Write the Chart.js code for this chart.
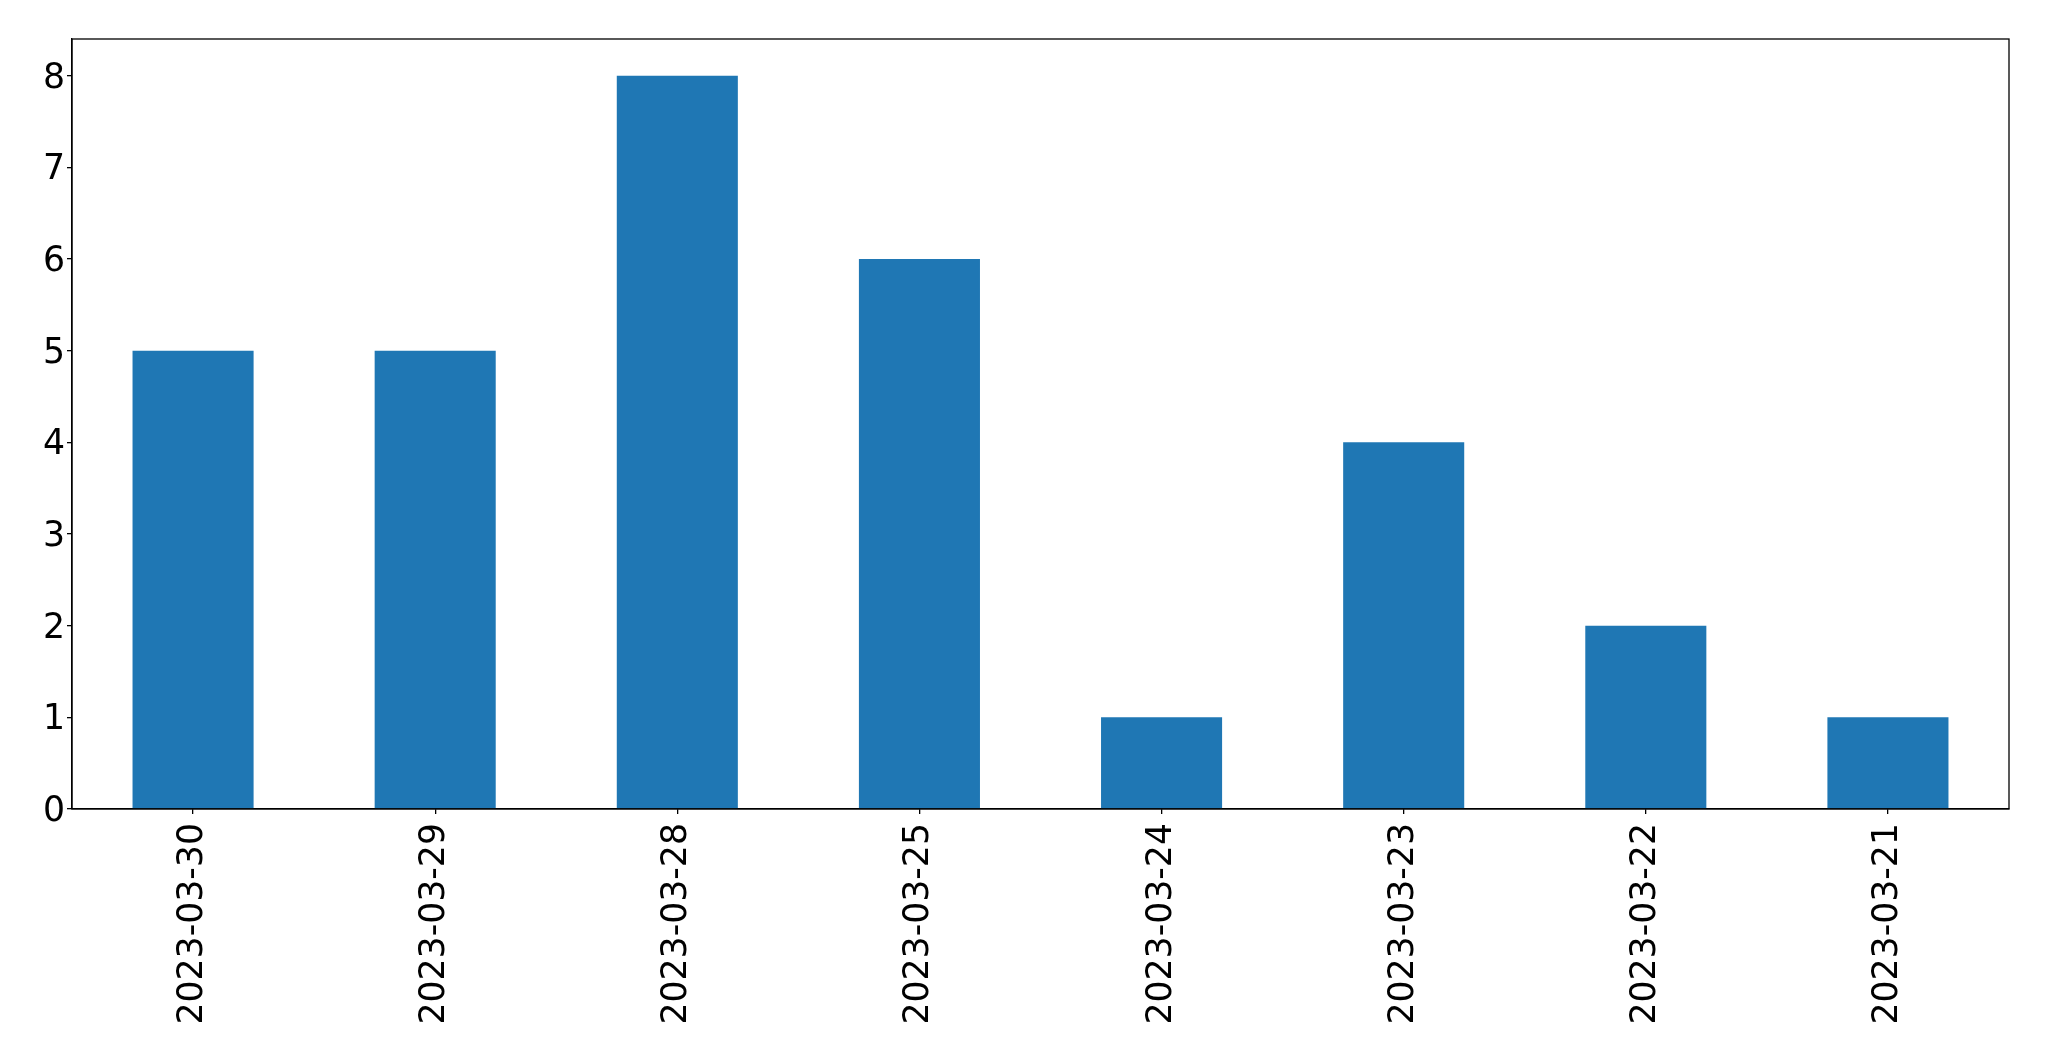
<!DOCTYPE html>
<html>
<head>
<meta charset="utf-8">
<script src="https://cdn.jsdelivr.net/npm/chart.js@4.4.0/dist/chart.umd.min.js"></script>
<style>
  html, body { margin: 0; padding: 0; background: #fff; }
  #wrap { width: 2049px; height: 1061px; }
</style>
</head>
<body>
<div id="wrap"><canvas id="c" width="2049" height="1061"></canvas></div>
<script>
// ── Datos ─────────────────────────────────────────────────────────────────
const fechas  = ['2023-03-30', '2023-03-29', '2023-03-28', '2023-03-25', '2023-03-24', '2023-03-23', '2023-03-22', '2023-03-21'];
const valores = [5, 5, 8, 6, 1, 4, 2, 1];
const yTicks  = [0, 1, 2, 3, 4, 5, 6, 7, 8];
const yMax    = 8.4;

const FONT = { family: '"DejaVu Sans", sans-serif', size: 34.7 };

// marco completo alrededor del área de dibujo
const frame = {
  id: 'frame',
  afterDraw(chart) {
    const { ctx, chartArea: a } = chart;
    ctx.save();
    ctx.strokeStyle = '#000';
    ctx.lineWidth = 1.3;
    ctx.strokeRect(a.left, a.top, a.right - a.left, a.bottom - a.top);
    ctx.restore();
  },
};

new Chart(document.getElementById('c').getContext('2d'), {
  type: 'bar',
  data: {
    labels: fechas,
    datasets: [{ data: valores, backgroundColor: '#1f77b4', barPercentage: 0.5, categoryPercentage: 1 }],
  },
  options: {
    responsive: false,
    animation: false,
    layout: { padding: { top: 39, right: 40, left: 0, bottom: 0 } },
    plugins: { legend: { display: false }, tooltip: { enabled: false } },
    scales: {
      x: {
        offset: true,
        grid: { display: true, offset: false, drawOnChartArea: false, drawTicks: true, tickLength: 5, color: '#000', lineWidth: 1.3 },
        border: { display: true, color: '#000', width: 1.3 },
        ticks: { color: '#000', font: FONT, minRotation: 90, maxRotation: 90, padding: 9, autoSkip: false },
        afterFit: s => { s.height = 252; },
      },
      y: {
        min: 0,
        max: yMax,
        grid: { display: true, drawOnChartArea: false, drawTicks: true, tickLength: 5, color: '#000', lineWidth: 1.3 },
        border: { display: true, color: '#000', width: 1.3 },
        ticks: { color: '#000', font: FONT, padding: 2, labelOffset: 3 },
        afterBuildTicks: s => { s.ticks = yTicks.map(v => ({ value: v })); },
        afterFit: s => { s.width = 72; },
      },
    },
  },
  plugins: [frame],
});
</script>
</body>
</html>
